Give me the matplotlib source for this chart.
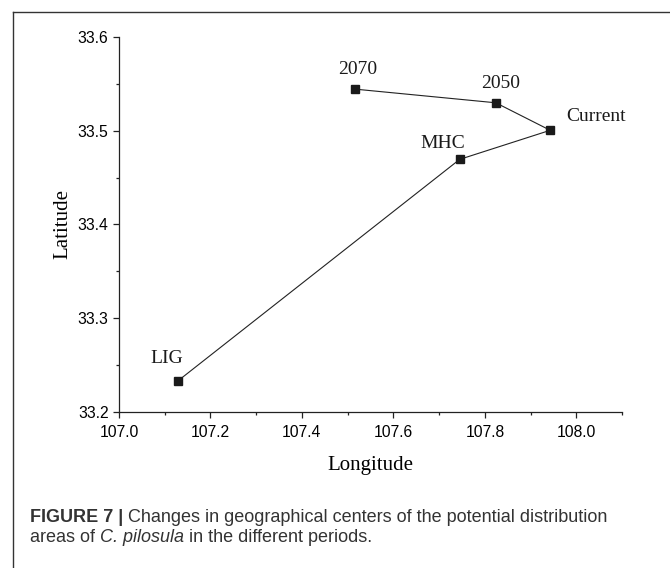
import matplotlib
matplotlib.use("Agg")
import matplotlib.pyplot as plt
from matplotlib.lines import Line2D
from matplotlib.ticker import MultipleLocator

# Geographical centers, in path order
periods = ['LIG', 'MHC', 'Current', '2050', '2070']
longitude = [107.128, 107.745, 107.943, 107.824, 107.516]
latitude = [33.2324, 33.4695, 33.5006, 33.5300, 33.5446]

# label offsets in pixels (dx, dy) and alignment
label_offsets = {
    'LIG': (-11, 23, 'center'),
    'MHC': (-17, 16, 'center'),
    'Current': (16, 14, 'left'),
    '2050': (5, 19, 'center'),
    '2070': (3, 20, 'center'),
}

x_ticks = [107.0, 107.2, 107.4, 107.6, 107.8, 108.0]
y_ticks = [33.2, 33.3, 33.4, 33.5, 33.6]

serif = ['Liberation Serif', 'DejaVu Serif']
sans = ['Liberation Sans', 'DejaVu Sans']

fig = plt.figure(figsize=(6.7, 5.68), dpi=100)
ax = fig.add_axes([119 / 670, 1 - 411.5 / 568, (622 - 119) / 670, (411.5 - 37.3) / 568])

ax.plot(longitude, latitude, color='#222222', linewidth=0.8,
        marker='s', markersize=5.4, markerfacecolor='#1a1a1a',
        markeredgecolor='#1a1a1a', zorder=3)

for name, lon, lat in zip(periods, longitude, latitude):
    dx, dy, ha = label_offsets[name]
    ax.annotate(name, (lon, lat), xytext=(dx, dy), textcoords='offset pixels',
                ha=ha, va='center', fontsize=14, family=serif, color='#1a1a1a')

ax.set_xlim(107.0, 108.1)
ax.set_ylim(33.2, 33.6)
ax.set_xticks(x_ticks)
ax.set_yticks(y_ticks)
ax.xaxis.set_minor_locator(MultipleLocator(0.1))
ax.yaxis.set_minor_locator(MultipleLocator(0.05))
ax.set_xticklabels([f'{v:.1f}' for v in x_ticks], family=sans, fontsize=11.3)
ax.set_yticklabels([f'{v:.1f}' for v in y_ticks], family=sans, fontsize=11.3)
ax.tick_params(which='major', direction='out', length=4.5, width=0.9, color='#222222', pad=3)
ax.tick_params(axis='x', which='major', pad=5)
ax.tick_params(which='minor', direction='out', length=2.5, width=0.9, color='#222222')

for side in ['top', 'right']:
    ax.spines[side].set_visible(False)
for side in ['left', 'bottom']:
    ax.spines[side].set_linewidth(0.9)
    ax.spines[side].set_color('#222222')

ax.set_xlabel('Longitude', family=serif, fontsize=15, labelpad=12)
ax.set_ylabel('Latitude', family=serif, fontsize=15, labelpad=4)

# outer frame (left and top edges visible)
fig.add_artist(Line2D([13 / 670, 13 / 670], [0, 1 - 11.7 / 568],
                      transform=fig.transFigure, color='#333333', linewidth=1.0))
fig.add_artist(Line2D([13 / 670, 1], [1 - 11.7 / 568, 1 - 11.7 / 568],
                      transform=fig.transFigure, color='#333333', linewidth=1.0))

# caption, drawn piece by piece
fig.canvas.draw()
renderer = fig.canvas.get_renderer()


def draw_run(pieces, x_px, y_px):
    for text, weight, style in pieces:
        t = fig.text(x_px / 670, 1 - y_px / 568, text, fontsize=13, family=sans,
                     weight=weight, style=style, color='#333333', va='center', ha='left')
        bb = t.get_window_extent(renderer=renderer)
        x_px += bb.width


draw_run([('FIGURE 7 | ', 'bold', 'normal'),
          ('Changes in geographical centers of the potential distribution', 'normal', 'normal')],
         30, 517)
draw_run([('areas of ', 'normal', 'normal'),
          ('C. pilosula', 'normal', 'italic'),
          (' in the different periods.', 'normal', 'normal')],
         30, 537)

fig.savefig('out.png', dpi=100)
